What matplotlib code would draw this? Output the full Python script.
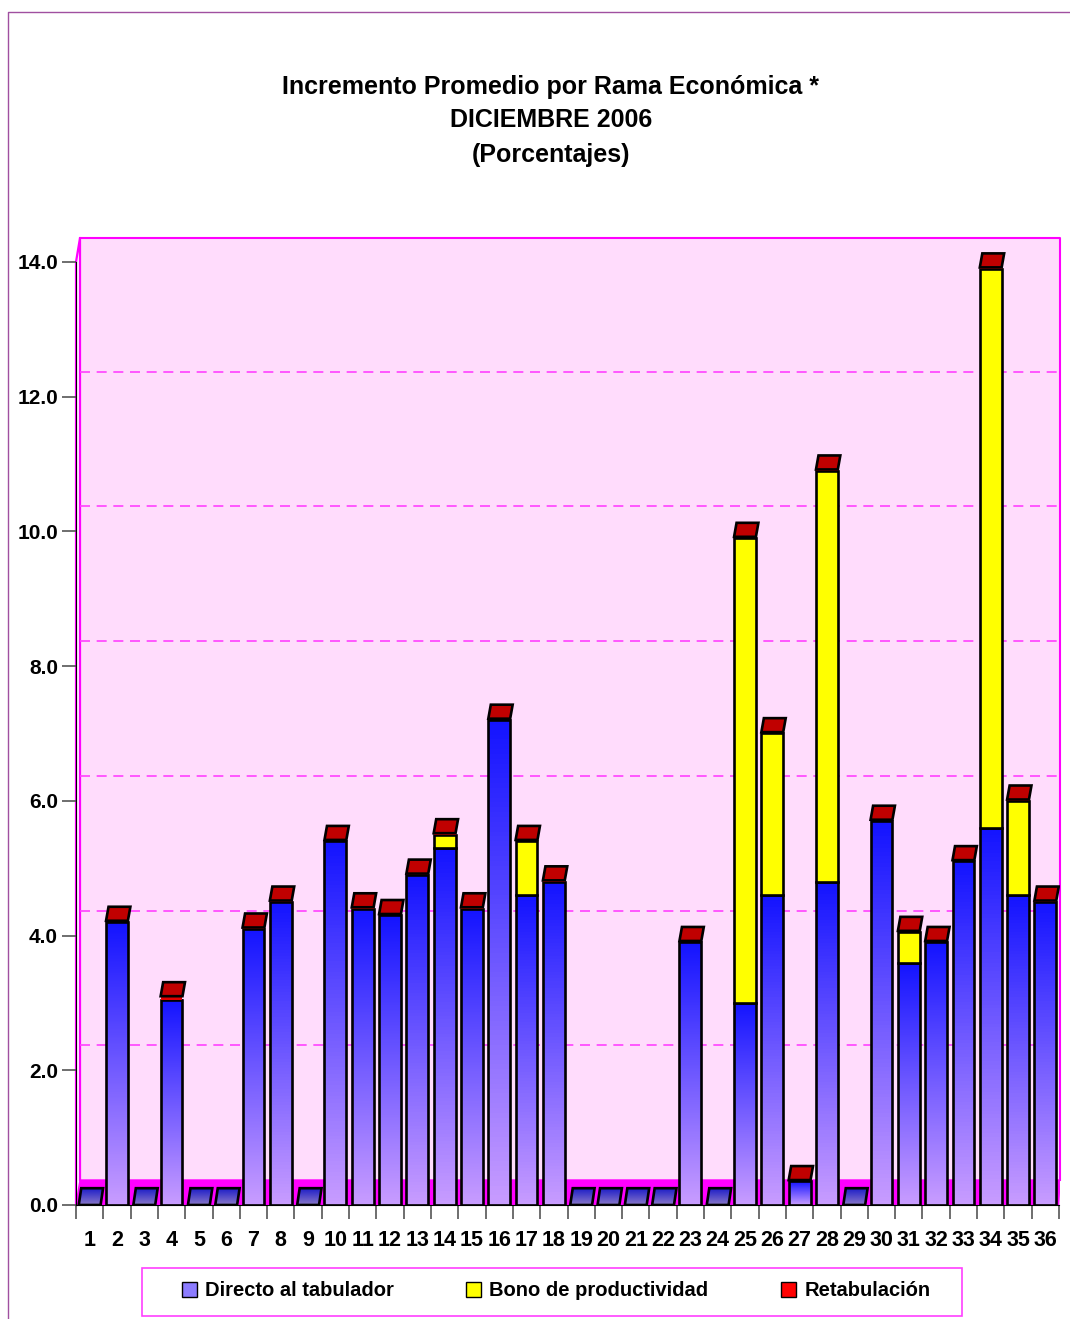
#Incremento promedio por rama economica - Dic 2006

#Importing Libraries
import numpy as np
import matplotlib
matplotlib.use("Agg")
import matplotlib.pyplot as plt
from matplotlib.colors import LinearSegmentedColormap
from matplotlib.patches import Polygon, Rectangle, Patch
from matplotlib.lines import Line2D

plt.rcParams['font.family'] = ['Liberation Sans', 'DejaVu Sans']
plt.rcParams['font.weight'] = 'bold'

#Data
ramas = [str(i) for i in range(1, 37)]
directo = [0.0, 4.2, 0.0, 3.05, 0.0, 0.0, 4.1, 4.5, 0.0, 5.4, 4.4, 4.3, 4.9, 5.3, 4.4, 7.2, 4.6, 4.8,
           0.0, 0.0, 0.0, 0.0, 3.9, 0.0, 3.0, 4.6, 0.35, 4.8, 0.0, 5.7, 3.6, 3.9, 5.1, 5.6, 4.6, 4.5]
bono = [0.0, 0.0, 0.0, 0.0, 0.0, 0.0, 0.0, 0.0, 0.0, 0.0, 0.0, 0.0, 0.0, 0.2, 0.0, 0.0, 0.8, 0.0,
        0.0, 0.0, 0.0, 0.0, 0.0, 0.0, 6.9, 2.4, 0.0, 6.1, 0.0, 0.0, 0.45, 0.0, 0.0, 8.3, 1.4, 0.0]
retab = [0.0, 0.02, 0.0, 0.05, 0.0, 0.0, 0.02, 0.02, 0.0, 0.02, 0.02, 0.02, 0.02, 0.02, 0.02, 0.02, 0.02, 0.02,
         0.0, 0.0, 0.0, 0.0, 0.02, 0.0, 0.02, 0.02, 0.02, 0.02, 0.0, 0.02, 0.02, 0.02, 0.02, 0.02, 0.02, 0.02]
yticks = [0, 2, 4, 6, 8, 10, 12, 14]

W, H = 1070, 1319
fig = plt.figure(figsize=(W / 100, H / 100), dpi=100)

#axes: y=0 at px 1205, y=14 at px 262, categories 0.5..36.5 from px 76
px_y = (1205 - 262) / 14.0
px_x = (1059 - 76) / 36.0
ytop = (1205 - 238) / px_y
xright = 0.5 + (1060 - 76) / px_x
ax = fig.add_axes([76 / W, (H - 1205) / H, (1060 - 76) / W, (1205 - 238) / H])
ax.set_facecolor('none')

depth = (1205 - 1180) / px_y        # depth of the back wall
dy = 14 / px_y                      # top face
dx = 2.5 / px_x
wall_x0 = 0.5 + 4 / px_x

#back wall and floor
ax.add_patch(Rectangle((wall_x0, depth), xright - wall_x0, ytop - depth, facecolor='#ffdcfc',
                       edgecolor='none', zorder=0))
ax.plot([wall_x0, xright, xright], [ytop, ytop, depth], color='#ff00ff', lw=1.5, zorder=1, clip_on=False)
ax.plot([0.5, 0.5, wall_x0, wall_x0], [0, 14, ytop, depth], color='#ff00ff', lw=1.6, zorder=1, clip_on=False)
ax.add_patch(Polygon([(0.5, 0), (xright - 0.05, 0), (xright, depth), (wall_x0, depth)],
                     facecolor='#ff00ff', edgecolor='#ff00ff', lw=1, zorder=1))
for v in yticks[1:-1]:
    ax.plot([wall_x0, xright], [v + depth, v + depth], color='#ff40ff', lw=1.2,
            dashes=(6, 4), zorder=1)

blue_cm = LinearSegmentedColormap.from_list('b', ['#c89cff', '#1414ff'])
flat_cm = LinearSegmentedColormap.from_list('f', ['#8a78c8', '#1c1cc8'])
grad = np.linspace(0, 1, 100).reshape(-1, 1)

bw = 0.8
lw = 1.9
for i in range(len(ramas)):
    xc = i + 1
    x0, x1 = xc - bw / 2, xc + bw / 2
    d, b, r = directo[i], bono[i], retab[i]
    total = d + b + r
    if total == 0:
        h0 = dy * 1.2
        poly = Polygon([(x0, 0), (x1, 0), (x1 + dx, h0), (x0 + dx, h0)],
                       facecolor='none', edgecolor='black', lw=lw, zorder=4)
        ax.add_patch(poly)
        im = ax.imshow(grad, extent=[x0, x1 + dx, 0, h0], origin='lower', aspect='auto',
                       cmap=flat_cm, zorder=3)
        im.set_clip_path(poly)
        continue
    if d > 0:
        ax.imshow(grad, extent=[x0, x1, 0, d], origin='lower', aspect='auto', cmap=blue_cm, zorder=3)
        ax.bar(xc, d, width=bw, facecolor='none', edgecolor='black', lw=lw, zorder=4)
    if b > 0:
        ax.bar(xc, b, bottom=d, width=bw, color='#ffff00', edgecolor='black', lw=lw, zorder=4)
    if r > 0:
        ax.bar(xc, r, bottom=d + b, width=bw, color='#e00000', edgecolor='none', zorder=4)
    ax.add_patch(Polygon([(x0, total), (x1, total), (x1 + dx, total + dy), (x0 + dx, total + dy)],
                         facecolor='#c00000', edgecolor='black', lw=lw, zorder=5))

ax.set_xlim(0.5, xright)
ax.set_ylim(0, ytop)

for s in ['top', 'right']:
    ax.spines[s].set_visible(False)
ax.spines['left'].set_bounds(0, 14)
ax.spines['left'].set_color('black')
ax.spines['bottom'].set_bounds(0.5, 36.5)
ax.spines['bottom'].set_zorder(6)

ax.set_yticks(yticks)
ax.set_yticklabels(['%.1f' % v for v in yticks], fontsize=15, fontweight='bold')
ax.tick_params(axis='y', length=10, width=1.2, color='#555555', pad=3)

ax.set_xticks(np.arange(0.5, 37, 1))
ax.set_xticklabels([])
ax.set_xticks(np.arange(1, 37), minor=True)
ax.set_xticklabels(ramas, minor=True, fontsize=15.5, fontweight='bold')
ax.tick_params(axis='x', which='major', length=10, width=1.2, color='#555555')
ax.tick_params(axis='x', which='minor', length=0, pad=18)

#Title
fig.text(551 / W, 1 - 87 / H, 'Incremento Promedio por Rama Económica *', ha='center', va='center',
         fontsize=18, fontweight='bold')
fig.text(551 / W, 1 - 120 / H, 'DICIEMBRE 2006', ha='center', va='center', fontsize=18, fontweight='bold')
fig.text(551 / W, 1 - 155 / H, '(Porcentajes)', ha='center', va='center', fontsize=18, fontweight='bold')

#outer border
fig.add_artist(Line2D([8 / W, 8 / W, 1], [0, 1 - 12 / H, 1 - 12 / H], color='#a050a0', lw=1))

#Legend
fig.add_artist(Rectangle((142 / W, 1 - 1316 / H), (962 - 142) / W, 48 / H, transform=fig.transFigure,
                         facecolor='white', edgecolor='#ff40ff', lw=1.2))
handles = [Patch(facecolor='#8c7cff', edgecolor='black', label='Directo al tabulador'),
           Patch(facecolor='#ffff00', edgecolor='black', label='Bono de productividad'),
           Patch(facecolor='#ff0000', edgecolor='black', label='Retabulación')]
fig.legend(handles=handles, loc='center', bbox_to_anchor=(556 / W, 1 - 1291 / H), ncol=3, frameon=False,
           prop={'size': 14.5, 'weight': 'bold'}, handlelength=0.75, handleheight=0.75, handletextpad=0.4,
           columnspacing=3.6)

fig.savefig('out.png', dpi=100)
